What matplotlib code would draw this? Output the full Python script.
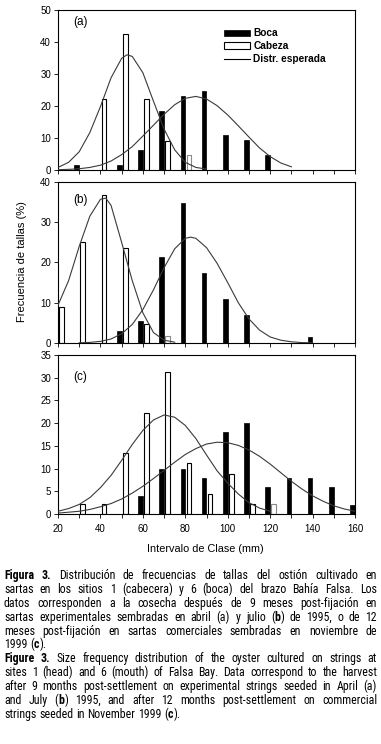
import os
import matplotlib
matplotlib.use('Agg')
import matplotlib.pyplot as plt
from matplotlib.patches import Patch
from matplotlib.lines import Line2D
from matplotlib import font_manager as fm

plt.rcParams['font.family'] = ['Liberation Sans', 'DejaVu Sans']

# ---------------- data ----------------
classes = [20, 30, 40, 50, 60, 70, 80, 90, 100, 110, 120, 130, 140, 150, 160]

a_boca   = [0, 1.6, 0, 1.6, 6.3, 18.4, 23.1, 24.7, 10.9, 9.4, 4.7, 0, 0, 0, 0]
a_cabeza = [0, 0, 22.2, 42.5, 22.2, 9.0, 4.6, 0, 0, 0, 0, 0, 0, 0, 0]
b_boca   = [0, 0, 0, 3.0, 5.5, 21.4, 34.7, 17.4, 10.9, 6.9, 0, 0, 1.4, 0, 0]
b_cabeza = [9.0, 25.1, 36.7, 23.5, 4.6, 1.7, 0, 0, 0, 0, 0, 0, 0, 0, 0]
c_boca   = [0, 0, 0, 0, 4.0, 10.0, 10.0, 8.0, 18.1, 20.0, 6.0, 8.0, 8.0, 6.0, 2.0]
c_cabeza = [0, 2.3, 2.3, 13.4, 22.2, 31.2, 11.2, 4.4, 8.8, 2.2, 2.2, 0, 0, 0, 0]

# expected (fitted) distributions
a_cab_x = [20, 25, 30, 35, 40, 45, 50, 52.5, 55, 60, 65, 70, 75, 80, 85, 90]
a_cab_y = [0.8, 2.4, 5.7, 11.7, 19.8, 28.8, 34.9, 36.0, 35.5, 30.4, 21.5, 12.8, 6.3, 2.4, 0.8, 0.3]
a_boc_x = [20, 25, 30, 35, 40, 45, 50, 55, 60, 65, 70, 75, 80, 85, 90, 95, 100, 105, 110, 115, 120, 125, 130]
a_boc_y = [0.1, 0.2, 0.4, 0.8, 1.5, 2.8, 4.8, 7.3, 10.6, 14.0, 17.4, 20.4, 22.4, 23.0, 22.2, 20.1, 17.2, 13.8, 10.3, 6.9, 4.2, 2.2, 1.0]

b_cab_x = [20, 25, 30, 35, 40, 42.5, 45, 50, 55, 60, 65, 70, 75]
b_cab_y = [9.4, 15.5, 24.0, 31.5, 35.7, 36.0, 34.2, 25.0, 15.5, 7.5, 2.6, 0.7, 0.2]
b_boc_x = [30, 35, 40, 45, 50, 55, 60, 65, 70, 75, 80, 82.5, 85, 90, 95, 100, 105, 110, 115, 120, 125, 130, 135, 140]
b_boc_y = [0.05, 0.15, 0.4, 1.0, 2.3, 4.6, 8.3, 13.2, 18.7, 23.4, 26.0, 26.3, 26.0, 23.7, 19.8, 15.0, 10.0, 6.0, 3.2, 1.5, 0.7, 0.3, 0.1, 0.05]

c_cab_x = [20, 25, 30, 35, 40, 45, 50, 55, 60, 65, 70, 75, 80, 85, 90, 95, 100, 105, 110, 115, 120]
c_cab_y = [0.6, 1.2, 2.1, 3.6, 5.8, 8.5, 11.8, 15.3, 18.4, 20.7, 21.8, 21.3, 19.5, 16.6, 13.0, 9.5, 6.8, 4.4, 2.5, 1.3, 0.6]
c_boc_x = [20, 25, 30, 35, 40, 45, 50, 55, 60, 65, 70, 75, 80, 85, 90, 95, 100, 105, 110, 115, 120, 125, 130, 135, 140, 145, 150, 155, 160]
c_boc_y = [0.2, 0.4, 0.6, 1.0, 1.6, 2.3, 3.3, 4.6, 6.1, 7.8, 9.6, 11.4, 13.1, 14.4, 15.4, 15.8, 15.7, 15.1, 14.1, 12.7, 11.0, 9.1, 7.2, 5.5, 4.0, 2.8, 1.8, 1.1, 0.6]

panel_labels = ['(a)', '(b)', '(c)']
legend_labels = ['Boca', 'Cabeza', 'Distr. esperada']
xlabel = 'Intervalo de Clase (mm)'
ylabel = 'Frecuencia de tallas (%)'

caption_lines = [
    ('*Figura* *3.* Distribución de frecuencias de tallas del ostión cultivado en', True),
    ('sartas en los sitios 1 (cabecera) y 6 (boca) del brazo Bahía Falsa. Los', True),
    ('datos corresponden a la cosecha después de 9 meses post-fijación en', True),
    ('sartas experimentales sembradas en abril (a) y julio (*b*) de 1995, o de 12', True),
    ('meses post-fijación en sartas comerciales sembradas en noviembre de', True),
    ('1999 (*c*).', False),
    ('*Figure* *3.* Size frequency distribution of the oyster cultured on strings at', True),
    ('sites 1 (head) and 6 (mouth) of Falsa Bay. Data correspond to the harvest', True),
    ('after 9 months post-settlement on experimental strings seeded in April (a)', True),
    ('and July (*b*) 1995, and after 12 months post-settlement on commercial', True),
    ('strings seeded in November 1999 (*c*).', False),
]

# ---------------- layout ----------------
FW, FH = 381, 744
fig = plt.figure(figsize=(FW / 100, FH / 100), dpi=100)

def px_axes(left, top, right, bottom):
    return fig.add_axes([left / FW, 1 - bottom / FH, (right - left) / FW, (bottom - top) / FH])

axa = px_axes(58, 10, 355, 170)
axb = px_axes(58, 182, 355, 343)
axc = px_axes(58, 355, 355, 514)

curve_color = '#3a3a3a'
bw = 2.2

panels = [
    (axa, a_boca, a_cabeza, [(a_cab_x, a_cab_y), (a_boc_x, a_boc_y)], 50, 10, [80]),
    (axb, b_boca, b_cabeza, [(b_cab_x, b_cab_y), (b_boc_x, b_boc_y)], 40, 10, [70]),
    (axc, c_boca, c_cabeza, [(c_cab_x, c_cab_y), (c_boc_x, c_boc_y)], 35, 5, [120]),
]
label_pos = [0.927, 0.888, 0.864]

for i, (ax, boca, cab, curves, ymax, ystep, grayed) in enumerate(panels):
    bx = [c - 1.15 for c, v in zip(classes, boca) if v > 0]
    bv = [v for v in boca if v > 0]
    ax.bar(bx, bv, width=bw, color='black', edgecolor='black', linewidth=0.5, zorder=2)
    cx = [c + 1.7 for c, v in zip(classes, cab) if v > 0]
    cv = [v for v in cab if v > 0]
    ec = ['#8a8a8a' if c in grayed else 'black' for c, v in zip(classes, cab) if v > 0]
    ax.bar(cx, cv, width=bw, color='white', edgecolor=ec, linewidth=0.8, zorder=2)
    for xs, ys in curves:
        ax.plot(xs, ys, color=curve_color, linewidth=0.8, zorder=3)
    ax.set_xlim(20, 160)
    ax.set_ylim(0, ymax)
    ax.set_yticks(range(0, ymax + 1, ystep))
    for s in ax.spines.values():
        s.set_linewidth(0.8)
    ax.tick_params(direction='out', length=3, width=0.6, labelsize=7, pad=2)
    if i < 2:
        ax.set_xticks(range(20, 161, 10))
        ax.tick_params(axis='x', labelbottom=False)
    else:
        ax.set_xticks(range(20, 161, 20))
        ax.set_xticks(range(30, 161, 20), minor=True)
        ax.tick_params(axis='x', which='minor', direction='out', length=3, width=0.6)
        ax.tick_params(axis='x', pad=4)
    ax.text(0.05, label_pos[i], panel_labels[i], transform=ax.transAxes,
            fontsize=8.5, ha='left', va='center')

handles = [Patch(facecolor='black', edgecolor='black', linewidth=0.5),
           Patch(facecolor='white', edgecolor='black', linewidth=0.8),
           Line2D([], [], color='black', linewidth=0.8)]
axa.legend(handles, legend_labels, loc='upper left', bbox_to_anchor=(0.56, 0.885),
           frameon=False, prop={'weight': 'bold', 'size': 7.3}, handlelength=2.5,
           handleheight=0.6, handletextpad=0.35, labelspacing=0.28, borderpad=0,
           borderaxespad=0)

fig.text(22 / FW, 1 - 262 / FH, ylabel, rotation=90, ha='center', va='center', fontsize=8)
fig.text(205 / FW, 1 - 549 / FH, xlabel, ha='center', va='center', fontsize=7.8)

# ---------------- caption font: prefer a condensed sans ----------------
def wnum(w):
    if isinstance(w, str):
        return fm.weight_dict.get(w, 400)
    return w

def pick_condensed():
    stretch_rank = {'condensed': 0, 'semi-condensed': 1, 'extra-condensed': 2,
                    'ultra-condensed': 3}
    name_rank = ['liberation sans narrow', 'arial narrow', 'roboto condensed',
                 'noto sans', 'open sans', 'dejavu sans']
    groups = {}
    for e in fm.fontManager.ttflist:
        fn = os.path.basename(e.fname).lower()
        nm = e.name.lower()
        if e.style != 'normal':
            continue
        if 'mono' in fn or ('serif' in fn and 'sans' not in fn) or 'cjk' in fn:
            continue
        st = e.stretch if isinstance(e.stretch, str) else ''
        cond = st in stretch_rank or 'narrow' in fn or 'condensed' in fn \
            or 'narrow' in nm or 'condensed' in nm
        if not cond:
            continue
        level = stretch_rank.get(st, 0)
        if 'extracondensed' in fn or 'extra' in fn and 'condensed' in fn:
            level = 2
        elif 'semicondensed' in fn or 'semi' in fn and 'condensed' in fn:
            level = 1
        key = (nm, level)
        groups.setdefault(key, {})
        wv = wnum(e.weight)
        if 350 <= wv <= 450:
            groups[key]['regular'] = e.fname
        elif 650 <= wv <= 750:
            groups[key]['bold'] = e.fname
    best = None
    for (nm, level), d in groups.items():
        if 'regular' not in d:
            continue
        nr = len(name_rank)
        for k, n in enumerate(name_rank):
            if n in nm:
                nr = k
                break
        score = (level, nr)
        if best is None or score < best[0]:
            best = (score, d)
    if best is None:
        return None
    d = best[1]
    return d['regular'], d.get('bold', d['regular'])

picked = pick_condensed()
renderer = fig.canvas.get_renderer()

def make_props(bold, size):
    if picked is not None:
        return fm.FontProperties(fname=picked[1] if bold else picked[0], size=size)
    return fm.FontProperties(family=['Liberation Sans', 'DejaVu Sans'],
                             weight='bold' if bold else 'normal', size=size)

def runs_of(word):
    parts = word.split('*')
    out, bold = [], False
    for p in parts:
        if p:
            out.append((p, bold))
        bold = not bold
    return out

def text_w(s, bold, size):
    t = fig.text(0, 0, s, fontproperties=make_props(bold, size))
    w = t.get_window_extent(renderer).width
    t.remove()
    return w

X0, X1 = 4, 377
BASE0, DY = 579, 13.9

# choose size so the widest justified line fits with natural spacing
TEST = 8.0
sp_test = text_w('x x', False, TEST) - text_w('xx', False, TEST)
max_nat = 0
for line, justify in caption_lines:
    if not justify:
        continue
    ws = [sum(text_w(s, b, TEST) for s, b in runs_of(w)) for w in line.split(' ')]
    max_nat = max(max_nat, sum(ws) + sp_test * (len(ws) - 1))
CAP_FS = min(8.6, TEST * (X1 - X0 - 2) / max_nat)

space_w = text_w('x x', False, CAP_FS) - text_w('xx', False, CAP_FS)

for li, (line, justify) in enumerate(caption_lines):
    yb = BASE0 + li * DY
    words = [runs_of(w) for w in line.split(' ')]
    widths = [[text_w(s, b, CAP_FS) for s, b in runs] for runs in words]
    totals = [sum(w) for w in widths]
    if justify and len(words) > 1:
        gap = (X1 - X0 - sum(totals)) / (len(words) - 1)
    else:
        gap = space_w
    x = X0
    for runs, ws in zip(words, widths):
        xx = x
        for (s, b), w in zip(runs, ws):
            fig.text(xx / FW, 1 - yb / FH, s, fontproperties=make_props(b, CAP_FS),
                     ha='left', va='baseline')
            xx += w
        x += sum(ws) + gap

fig.savefig('out.png', dpi=100)
